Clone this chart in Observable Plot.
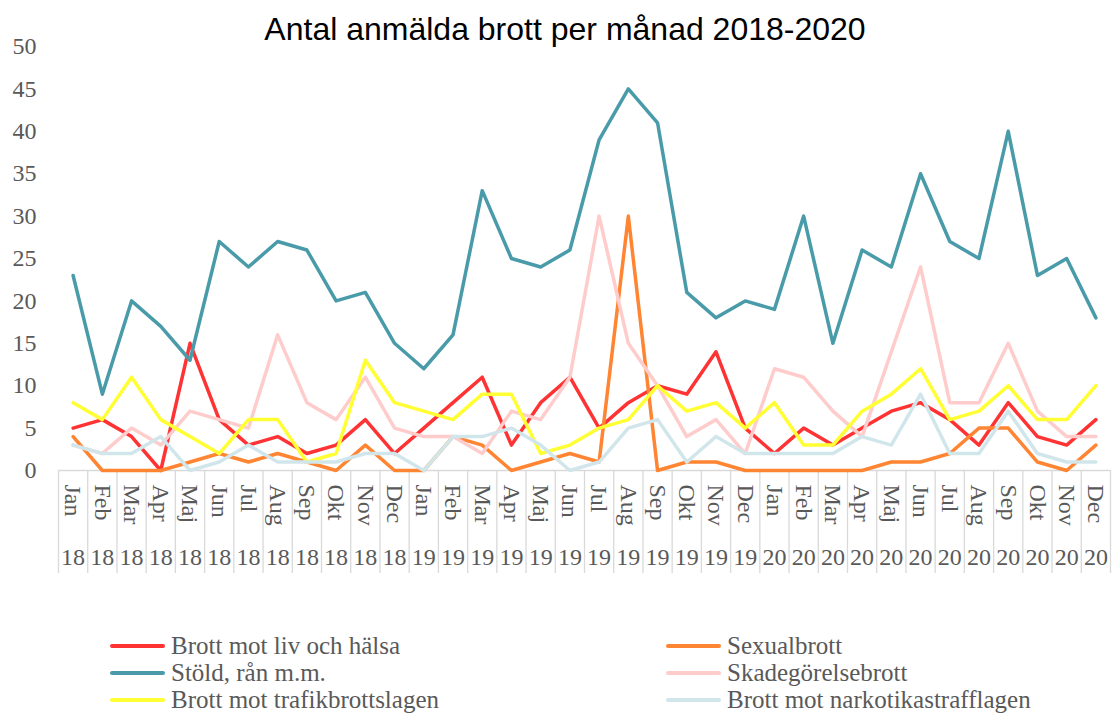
<!DOCTYPE html>
<html>
<head>
<meta charset="utf-8">
<script src="https://cdn.jsdelivr.net/npm/d3@7"></script>
<script src="https://cdn.jsdelivr.net/npm/@observablehq/plot@0.6"></script>
<style>
  body { margin: 0; background: #fff; }
  #wrap { position: relative; width: 1112px; height: 713px; overflow: hidden; background: #fff; }
  #title { position: absolute; top: 13px; left: 0; width: 1112px; padding-left: 18px; box-sizing: border-box;
           text-align: center; font-family: "Liberation Sans", Arial, sans-serif; font-size: 32px; line-height: 32px; color: #000; }
  #chart { position: absolute; top: 0; left: 0; }
  .leg { position: absolute; height: 28px; display: flex; align-items: center;
         font-family: "Liberation Serif", serif; font-size: 25px; color: #595959; white-space: nowrap; }
  .sw { display: inline-block; width: 55px; height: 4px; margin-right: 6px; border-radius: 2px; }
</style>
</head>
<body>
<div id="wrap">
  <div id="chart"></div>
  <div id="title">Antal anmälda brott per månad 2018-2020</div>
  <div id="legend"></div>
</div>
<script>
const months = ["Jan","Feb","Mar","Apr","Maj","Jun","Jul","Aug","Sep","Okt","Nov","Dec",
                "Jan","Feb","Mar","Apr","Maj","Jun","Jul","Aug","Sep","Okt","Nov","Dec",
                "Jan","Feb","Mar","Apr","Maj","Jun","Jul","Aug","Sep","Okt","Nov","Dec"];
const years = ["18","18","18","18","18","18","18","18","18","18","18","18",
               "19","19","19","19","19","19","19","19","19","19","19","19",
               "20","20","20","20","20","20","20","20","20","20","20","20"];
const yTicks = [0, 5, 10, 15, 20, 25, 30, 35, 40, 45, 50];

const seriesNames = ["Brott mot liv och hälsa", "Sexualbrott", "Stöld, rån m.m.",
                     "Skadegörelsebrott", "Brott mot trafikbrottslagen", "Brott mot narkotikastrafflagen"];
const seriesColors = ["#FF3333", "#FF8533", "#4A9BAA", "#FFCCCC", "#FFFF33", "#D1E6EB"];

const livOchHalsa = [5,6,4,0,15,6,3,4,2,3,6,2, 5,8,11,3,8,11,5,8,10,9,14,5, 2,5,3,5,7,8,6,3,8,4,3,6];
const sexualbrott = [4,0,0,0,1,2,1,2,1,0,3,0, 0,4,3,0,1,2,1,30,0,1,1,0, 0,0,0,0,1,1,2,5,5,1,0,3];
const stold       = [23,9,20,17,13,27,24,27,26,20,21,15, 12,16,33,25,24,26,39,45,41,21,18,20, 19,30,15,26,24,35,27,25,40,23,25,18];
const skadegorelse= [3,2,5,3,7,6,5,16,8,6,11,5, 4,4,2,7,6,11,30,15,10,4,6,2, 12,11,7,4,14,24,8,8,15,7,4,4];
const trafik      = [8,6,11,6,4,2,6,6,1,2,13,8, 7,6,9,9,2,3,5,6,10,7,8,5, 8,3,3,7,9,12,6,7,10,6,6,10];
const narkotika   = [3,2,2,4,0,1,3,1,1,1,2,2, 0,4,4,5,3,0,1,5,6,1,4,2, 2,2,2,4,3,9,2,2,7,2,1,1];

const seriesValues = [livOchHalsa, sexualbrott, stold, skadegorelse, trafik, narkotika];

const idx = months.map((_, i) => i);
const bounds = d3.range(0, months.length + 1).map(i => i - 0.5);
const serif = "'Liberation Serif', serif";

const lineMarks = seriesValues.map((vals, s) =>
  Plot.line(vals, {x: (d, i) => i, y: d => d, stroke: seriesColors[s], strokeWidth: 3.5,
                   strokeLinejoin: "round", strokeLinecap: "round"}));

const chart = Plot.plot({
  width: 1112,
  height: 600,
  marginTop: 46,
  marginBottom: 130,
  marginLeft: 58,
  marginRight: 2,
  style: {fontFamily: serif, background: "transparent"},
  x: {type: "linear", domain: [-0.5, months.length - 0.5], label: null},
  y: {domain: [0, 50], label: null},
  marks: [
    Plot.axisX(bounds, {tickSize: 103, tickFormat: () => "", stroke: "#D9D9D9", strokeWidth: 1.3, label: null}),
    Plot.axisX(idx, {tickSize: 0, tickPadding: 14, tickRotate: 90, tickFormat: i => months[i],
                     fontSize: 24, fill: "#595959", label: null}),
    Plot.axisX(idx, {tickSize: 0, tickPadding: 77, tickFormat: i => years[i],
                     fontSize: 24, fill: "#595959", label: null}),
    Plot.axisY(yTicks, {tickSize: 0, tickPadding: 22, fontSize: 24, fill: "#595959", label: null}),
    Plot.ruleY([0], {stroke: "#D9D9D9", strokeWidth: 1.5}),
    ...lineMarks
  ]
});
document.getElementById("chart").appendChild(chart);

const legend = document.getElementById("legend");
const legPos = [[110, 632], [666, 632], [110, 659], [666, 659], [110, 686], [666, 686]];
seriesNames.forEach((name, s) => {
  const item = document.createElement("div");
  item.className = "leg";
  item.style.left = legPos[s][0] + "px";
  item.style.top = legPos[s][1] + "px";
  const sw = document.createElement("span");
  sw.className = "sw";
  sw.style.background = seriesColors[s];
  const tx = document.createElement("span");
  tx.textContent = name;
  item.appendChild(sw);
  item.appendChild(tx);
  legend.appendChild(item);
});
</script>
</body>
</html>
